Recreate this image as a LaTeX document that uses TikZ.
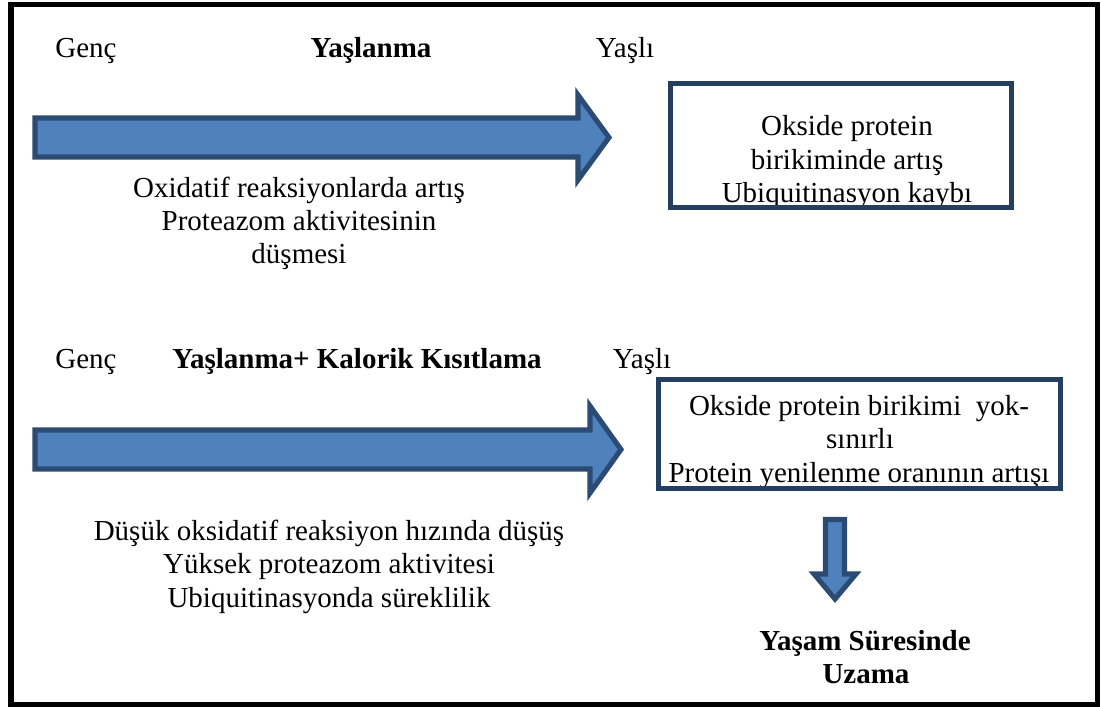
\documentclass[tikz,border=0pt]{standalone}
\usepackage{fontspec}
\setmainfont{Liberation Serif}
\definecolor{arrowfill}{HTML}{4F81BD}
\definecolor{arrowline}{HTML}{2B4B73}
\definecolor{boxline}{HTML}{243F60}
\tikzset{
  txt/.style={anchor=base, inner sep=0pt, font=\fontsize{21.75}{25}\selectfont},
  btxt/.style={txt, font=\fontsize{21.75}{25}\selectfont\bfseries},
  bigarrow/.style={fill=arrowfill, draw=arrowline, line width=3.8pt, line join=miter},
  resbox/.style={draw=boxline, line width=3.8pt},
}
\begin{document}
\begin{tikzpicture}[x=0.75pt, y=-0.75pt]
\useasboundingbox (0,0) rectangle (1101,707);
% outer frame
\draw[line width=4.4pt, black] (11,4.5) rectangle (1097.5,704.5);

% ---- top row ----
\node[txt] (genc1) at (86,57) {Genç};
\node[btxt] (yas1) at (371,57) {Yaşlanma};
\node[txt] (yasli1) at (625,57) {Yaşlı};

\draw[bigarrow] (35,118) -- (578,118) -- (578,95) -- (609,137.5) -- (578,180) -- (578,157) -- (35,157) -- cycle;

\node[txt] (ox1) at (299,197) {Oxidatif reaksiyonlarda artış};
\node[txt] (ox2) at (299,230) {Proteazom aktivitesinin};
\node[txt] (ox3) at (299,263) {düşmesi};

\node[txt] (b1a) at (847,135) {Okside protein};
\node[txt] (b1b) at (847,169) {birikiminde artış};
\node[txt] (b1c) at (847,202) {Ubiquitinasyon kaybı};
\draw[resbox] (670.5,83.5) rectangle (1011.5,207.5);

% ---- bottom row ----
\node[txt] (genc2) at (86,368) {Genç};
\node[btxt] (yas2) at (357,368) {Yaşlanma+ Kalorik Kısıtlama};
\node[txt] (yasli2) at (642,368) {Yaşlı};

\draw[bigarrow] (35,430) -- (590,430) -- (590,406) -- (621,449.5) -- (590,493) -- (590,469) -- (35,469) -- cycle;

\node[txt] (d1) at (329,540) {Düşük oksidatif reaksiyon hızında düşüş};
\node[txt] (d2) at (329,573) {Yüksek proteazom aktivitesi};
\node[txt] (d3) at (329,607) {Ubiquitinasyonda süreklilik};

\node[txt] (b2a) at (859,415) {Okside protein birikimi\ \ yok-};
\node[txt] (b2b) at (860,448) {sınırlı};
\node[txt] (b2c) at (859,482) {Protein yenilenme oranının artışı};
\draw[resbox] (658.5,379.5) rectangle (1060.5,488.5);

% down arrow
\draw[bigarrow] (825.5,519.5) -- (844.5,519.5) -- (844.5,574) -- (856,574) -- (835,599) -- (814,574) -- (825.5,574) -- cycle;

\node[btxt] (ys1) at (865,650) {Yaşam Süresinde};
\node[btxt] (ys2) at (866,683) {Uzama};
\end{tikzpicture}
\end{document}
